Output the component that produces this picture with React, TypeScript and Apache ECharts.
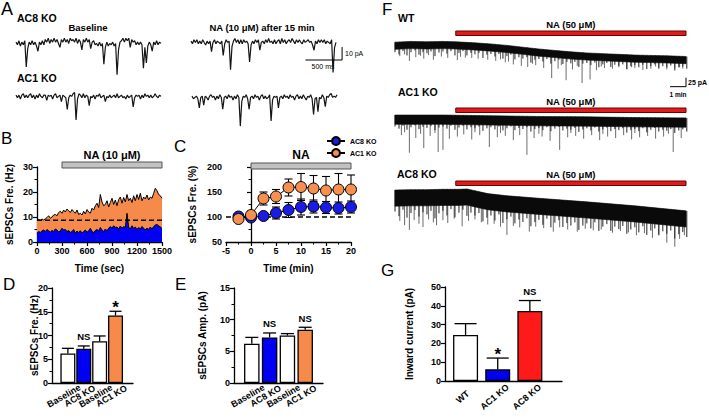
import React, { useEffect, useRef } from "react";
import * as echarts from "echarts";

const FONT = "'Liberation Sans', Arial, Helvetica, sans-serif";
const BLUE = "#0000f2";
const ORANGE = "#f68a4a";
const RED = "#ff1a1a";
const NA_GRAY = "#c2c2c2";
const NA_RED = "#e01b1b";

// ---------------- Panel A: example sEPSC traces (pA, one sample / 20 ms)
const A_DT_MS = 20;
const A_AC8_BASELINE = [1,-1,2,-2,1,-1,2,-18,-4,1, -1,2,-1,1,-2,-6,1,-1,2,-1, 3,1,4,0,3,1,4,1,3,0, -3,3,1,4,1,3,0,4,2,3, 1,4,0,3,1,-5,3,1,4,1, 3,-4,1,2,-1,0,-2,1,-2,0, -16,-3,1,-2,0,-1,1,-2,0,-24, -5,1,2,4,1,4,2,4,-3,3, 1,2,-1,1,-1,1,-1,-19,-3,-15, -2,1,-1,-6,1,-1,2,-1,1,0];
const A_AC8_NA = [1,-1,2,0,2,-1,1,-1,2,0, -2,1,-1,1,-7,0,2,-1,1,0, -1,1,-10,-1,2,0,1,-21,-3,1, 3,0,2,-1,2,-1,2,0,1,-1, -15,-2,1,-1,2,0,2,-6,0,1, -1,2,0,3,0,1,-1,2,-1,1, 2,-1,3,0,2,-1,1,2,0,3, 1,-1,2,0,2,0,-1,2,0,1, 2,0,1,-2,-6,1,-1,2,0,2, 0,2,-1,1,0,-1,2,-23,-4,0];
const A_AC1_BASELINE = [1,-1,1,-2,1,2,-1,1,-1,1, 2,-1,1,-2,1,-1,2,0,-1,1, 1,-3,1,0,1,-2,1,2,-1,0, 1,-4,1,0,-1,-10,-1,1,0,2, 3,-18,-2,2,1,-1,2,-1,1,0, -7,0,-1,1,-2,1,0,2,-1,0, 1,-4,0,-1,1,-1,0,1,-1,2, -1,0,1,-1,0,-2,1,-1,0,1, -8,-1,1,0,1,-2,1,-1,2,0, 1,-1,1,-1,0,2,0,-1,1,0];
const A_AC1_NA = [1,-1,0,1,-1,-8,0,1,-6,1, 0,-2,1,2,0,1,-2,1,-1,2, 0,-9,0,1,-1,2,0,1,-2,1, -1,2,0,-22,-3,1,0,2,-1,-9, 0,1,-1,2,0,1,-2,1,2,-1, 1,-1,0,2,-18,-2,1,0,1,-8, 0,1,-1,2,0,1,-1,2,0,1, -2,1,2,-1,1,-1,2,0,-2,1, 0,2,-1,-13,-1,0,-11,0,-1,2, 0,-7,1,0,2,3,0,1,0,2];
const A_SCALE_MS = 500;
const A_SCALE_PA = 10;

// ---------------- Panel B: sEPSC frequency over time (Hz, one bin / 20 s)
const B_DT_S = 20;
const B_AC1_KO = [8.5,9,8.7,9.2,8.8,9.3, 9.8,10.5,9.5,10,10.8, 11,10.5,11.8,12.3,11.5, 12.8,12,13.2,12.5,11.8, 13,12.2,11.5,12.8,11, 11.5,10.8,12.3,11.2,13, 12,11.5,13.5,12.8,14.5, 15.5,13.8,19,16,14.5, 15,16.5,14,15.8,17.5, 15,16.8,14.5,17,18, 15.5,17.8,16,19,16.5, 17.5,15.8,18.5,16.5,19, 17,19.5,16.5,18,17.2, 18.8,16.8,18,17.5,19.5, 21.5,20.5,19,18.5,17.5];
const B_AC8_KO = [3.5,4.2,3.8,4.5,4.8,4.2, 5,4.5,4,4.6,4.2, 5.2,4.8,4,4.5,5.5, 4.8,5,4.2,4.6,3.8, 4.2,5,3.5,4.4,3.8, 4.5,3.6,4.2,4.8,3.9, 4.5,5.5,4.2,3.8,4.6, 5,4.4,5.8,4.8,4.2, 5.2,4.5,5.5,6.2,5.5, 6.5,5.8,6,5.2,6.4, 5.5,6.2,5.8,11.5,6, 5.2,6.5,5.5,6,5, 5.8,5.2,6.2,5.5,4.8, 5.6,5,6,5.2,6.2, 6.8,7,6.5,6,5.5];
const B_BASELINE = 8.7;
const B_NA = [300, 1500];

// ---------------- Panel C: normalised frequency (%)
const C_TIME = [-2.5, 0, 2.5, 5, 7.5, 10, 12.5, 15, 17.5, 20];
const C_AC8_MEAN = [101, 99, 102, 108, 114, 120, 121, 119, 118, 120];
const C_AC8_SEM = [6, 5, 6, 12, 15, 16, 13, 12, 12, 12];
const C_AC1_MEAN = [96, 104, 137, 141, 159, 160, 157, 153, 155, 155];
const C_AC1_SEM = [5, 8, 13, 14, 17, 27, 26, 28, 32, 29];
const C_NA = [0, 20];

// ---------------- Panel D / E: bar summaries
const DE_LABELS = ["Baseline", "AC8 KO", "Baseline", "AC1 KO"];
const DE_POS = [1, 2, 3, 4];
const DE_COLORS = ["#ffffff", BLUE, "#ffffff", ORANGE];
const D_MEAN = [6.2, 7.2, 8.8, 14.2];
const D_SEM = [1.1, 0.6, 1.1, 0.9];
const D_SIG = ["", "NS", "", "*"];
const E_MEAN = [6.2, 7.2, 7.5, 8.4];
const E_SEM = [1.0, 0.7, 0.3, 0.4];
const E_SIG = ["", "NS", "", "NS"];

// ---------------- Panel G
const G_LABELS = ["WT", "AC1 KO", "AC8 KO"];
const G_POS = [1, 2, 3];
const G_COLORS = ["#ffffff", BLUE, RED];
const G_MEAN = [24.5, 6.2, 37.3];
const G_SEM = [6.0, 6.0, 5.5];
const G_SIG = ["", "*", "NS"];

// ---------------- Panel F: holding-current traces (min, pA)
const F_NA = [3.8, 18.2];
const F_SCALE_MIN = 1;
const F_SCALE_PA = 25;
const F_FRINGE_DT = 0.25;
const F_WT_TOP = [[0,-6],[1,-4],[2,-5],[3,-4],[3.8,-5],[5,-8],[6,-11],[7,-15],[8,-20],[9,-25],[10,-29],[11,-33],[12,-36],[13,-38],[14,-40],[15,-42],[16,-43],[17,-44],[18.2,-46]];
const F_WT_CORE = 20;
const F_WT_FRINGE = [-34,-40,-31,-43,-34,-29,-41,-34,-37,-32, -45,-35,-32,-38,-31,-43,-36,-31,-43,-36, -40,-36,-50,-41,-39,-46,-39,-52,-45,-41, -54,-48,-52,-48,-63,-55,-53,-60,-53,-66, -59,-55,-67,-61,-65,-61,-75,-66,-64,-70, -63,-76,-68,-64,-75,-69,-72,-68,-81,-73, -70,-76,-69,-81,-73,-68,-80,-73,-76,-71, -85,-76,-74,-80];
const F_WT_SPIKES = [[0.3,-45],[0.6,-40],[0.9,-58],[1.3,-48],[1.6,-44],[1.8,-52],[2.1,-42],[2.4,-55],[2.9,-46],[3.3,-50],[3.9,-56],[4.1,-47],[4.4,-49],[4.8,-50],[5.2,-52],[5.8,-55],[6.3,-58],[6.6,-54],[6.9,-62],[7.1,-60],[7.4,-68],[7.9,-72],[8.3,-75],[8.6,-66],[8.8,-70],[9.3,-78],[9.8,-106],[10.2,-80],[10.4,-70],[10.7,-112],[11.1,-82],[11.4,-72],[11.7,-120],[12.2,-110],[12.6,-84],[12.9,-74],[13.1,-78],[13.6,-80],[14.0,-76],[14.5,-82],[14.8,-76],[15.0,-78],[15.5,-84],[16.0,-80],[16.3,-74],[16.5,-76],[17.0,-82],[17.5,-78],[17.8,-76],[18.0,-80]];
const F_AC1_TOP = [[0,-14],[3,-14],[6,-16],[9,-18],[12,-19],[15,-21],[18.2,-22]];
const F_AC1_CORE = 26;
const F_AC1_FRINGE = [-46,-52,-44,-55,-48,-43,-53,-47,-50,-45, -56,-49,-46,-52,-44,-55,-49,-44,-54,-48, -51,-46,-58,-51,-48,-54,-46,-57,-51,-46, -56,-50,-53,-48,-60,-53,-50,-56,-48,-59, -52,-47,-57,-52,-55,-50,-61,-54,-51,-57, -49,-60,-54,-49,-59,-53,-56,-51,-63,-56, -53,-59,-51,-62,-55,-50,-60,-55,-58,-53, -64,-57,-54,-60];
const F_AC1_SPIKES = [[0.4,-70],[0.6,-62],[0.9,-119],[1.3,-78],[1.6,-66],[1.8,-106],[2.2,-72],[2.5,-64],[2.7,-117],[3.0,-111],[3.4,-80],[3.9,-74],[4.3,-68],[4.8,-82],[5.0,-62],[5.3,-70],[5.9,-103],[6.4,-76],[6.6,-64],[6.9,-72],[7.4,-84],[7.8,-70],[8.25,-125],[8.7,-78],[9.0,-66],[9.2,-74],[9.7,-86],[10.3,-111],[10.8,-76],[11.0,-64],[11.3,-72],[11.8,-80],[12.3,-70],[12.8,-84],[13.0,-66],[13.3,-74],[13.8,-78],[14.3,-70],[14.8,-82],[15.0,-64],[15.3,-76],[15.8,-72],[16.3,-80],[16.8,-74],[17.1,-66],[17.4,-117],[17.9,-78]];
const F_AC8_TOP = [[0,-14],[1,-13],[2,-13],[3,-12],[4,-12],[4.5,-11],[5,-16],[5.8,-24],[7,-30],[9,-37],[12,-47],[15,-58],[18.2,-72]];
const F_AC8_CORE = 45;
const F_AC8_FRINGE = [-74,-87,-69,-91,-78,-70,-88,-76,-82,-72, -93,-79,-72,-85,-67,-90,-77,-69,-86,-77, -85,-78,-101,-91,-85,-99,-82,-106,-95,-88, -107,-96,-103,-93,-115,-103,-97,-111,-94,-118, -105,-98,-117,-106,-113,-104,-125,-113,-107,-121, -104,-128,-116,-109,-128,-116,-123,-114,-136,-124, -118,-132,-115,-139,-127,-121,-140,-129,-136,-127, -149,-137,-131,-145];
const F_AC8_SPIKES = [[0.3,-100],[0.6,-112],[0.9,-125],[1.2,-98],[1.5,-108],[1.75,-117],[2.1,-96],[2.4,-104],[2.6,-112],[3.0,-98],[3.3,-106],[3.7,-94],[4.2,-115],[4.6,-100],[5.0,-96],[5.4,-104],[5.8,-110],[6.2,-108],[6.6,-116],[7.0,-139],[7.4,-114],[7.8,-118],[8.4,-130],[8.8,-116],[9.3,-120],[9.9,-130],[10.3,-118],[10.8,-124],[11.4,-130],[11.9,-122],[12.4,-126],[12.9,-124],[13.6,-133],[14.1,-128],[14.6,-132],[15.1,-140],[15.6,-134],[16.1,-147],[16.5,-138],[17.0,-161],[17.5,-172],[17.8,-150],[18.1,-140]];

// ---------------- helpers
const tickLabel = { color: "#000", fontSize: 9, fontWeight: "bold", fontFamily: FONT };
const axLine = { show: true, lineStyle: { color: "#000", width: 1.3 } };
const axTick = { show: true, inside: false, length: 4, lineStyle: { color: "#000", width: 1.2 } };
const minor = { show: true, splitNumber: 2, length: 2.5, lineStyle: { color: "#000", width: 1 } };
const nameStyle = { color: "#000", fontSize: 10, fontWeight: "bold", fontFamily: FONT };

function interp(pts: number[][], t: number) {
  for (let i = 1; i < pts.length; i++) {
    if (t <= pts[i][0]) {
      const [t0, v0] = pts[i - 1];
      const [t1, v1] = pts[i];
      return v0 + ((v1 - v0) * (t - t0)) / (t1 - t0);
    }
  }
  return pts[pts.length - 1][1];
}

function naBar(gi: number, range: number[], yVal: number, dy: number, h: number, text: string, fs: number, labelDy: number, fill: string, stroke: string) {
  return {
    type: "custom", xAxisIndex: gi, yAxisIndex: gi, silent: true, z: 5,
    data: [[range[0], range[1]]],
    renderItem: (_p: any, api: any) => {
      const a = api.coord([api.value(0), yVal]);
      const b = api.coord([api.value(1), yVal]);
      return {
        type: "group",
        children: [
          { type: "rect", shape: { x: a[0], y: a[1] + dy, width: b[0] - a[0], height: h }, style: { fill, stroke, lineWidth: 1 } },
          { type: "text", style: { text, x: (a[0] + b[0]) / 2, y: a[1] + dy + labelDy, textAlign: "center", textVerticalAlign: "middle", align: "center", verticalAlign: "middle", fill: "#000", fontSize: fs, fontWeight: "bold", fontFamily: FONT } },
        ],
      };
    },
  };
}

function scaleBar(gi: number, corner: number[], dx: number, dy: number) {
  return {
    type: "custom", xAxisIndex: gi, yAxisIndex: gi, silent: true, z: 6,
    data: [corner],
    renderItem: (_p: any, api: any) => {
      const x = api.value(0), y = api.value(1);
      const a = api.coord([x - dx, y]);
      const b = api.coord([x, y]);
      const c = api.coord([x, y + dy]);
      return { type: "polyline", shape: { points: [a, b, c] }, style: { stroke: "#000", lineWidth: 1, fill: "none" } };
    },
  };
}

function upErr(gi: number, pos: number[], mean: number[], sem: number[], half: number) {
  return {
    type: "custom", xAxisIndex: gi, yAxisIndex: gi, silent: true, z: 4,
    data: pos.map((p, i) => [p, mean[i], sem[i]]),
    renderItem: (_p: any, api: any) => {
      const x = api.value(0), m = api.value(1), e = api.value(2);
      const b = api.coord([x, m]);
      const t = api.coord([x, m + e]);
      const st = { stroke: "#000", lineWidth: 1.3 };
      return {
        type: "group",
        children: [
          { type: "line", shape: { x1: b[0], y1: b[1], x2: t[0], y2: t[1] }, style: st },
          { type: "line", shape: { x1: t[0] - half, y1: t[1], x2: t[0] + half, y2: t[1] }, style: st },
        ],
      };
    },
  };
}

function symErr(gi: number, pos: number[], mean: number[], sem: number[], half: number) {
  return {
    type: "custom", xAxisIndex: gi, yAxisIndex: gi, silent: true, z: 2,
    data: pos.map((p, i) => [p, mean[i], sem[i]]),
    renderItem: (_p: any, api: any) => {
      const x = api.value(0), m = api.value(1), e = api.value(2);
      const lo = api.coord([x, m - e]);
      const hi = api.coord([x, m + e]);
      const st = { stroke: "#000", lineWidth: 1.1 };
      return {
        type: "group",
        children: [
          { type: "line", shape: { x1: lo[0], y1: lo[1], x2: hi[0], y2: hi[1] }, style: st },
          { type: "line", shape: { x1: hi[0] - half, y1: hi[1], x2: hi[0] + half, y2: hi[1] }, style: st },
          { type: "line", shape: { x1: lo[0] - half, y1: lo[1], x2: lo[0] + half, y2: lo[1] }, style: st },
        ],
      };
    },
  };
}

function sigText(gi: number, pos: number[], mean: number[], sem: number[], sig: string[]) {
  return {
    type: "custom", xAxisIndex: gi, yAxisIndex: gi, silent: true, z: 6,
    data: pos.map((p, i) => [p, mean[i] + sem[i]]),
    renderItem: (p: any, api: any) => {
      const s = sig[p.dataIndex];
      if (!s) return null;
      const c = api.coord([api.value(0), api.value(1)]);
      const star = s === "*";
      return {
        type: "text",
        style: { text: s, x: c[0], y: c[1] + (star ? -4 : -9), textAlign: "center", textVerticalAlign: "middle", align: "center", verticalAlign: "middle", fill: "#000", fontSize: star ? 17 : 9.5, fontWeight: "bold", fontFamily: FONT },
      };
    },
  };
}

function catLabels(gi: number, pos: number[], labels: string[], rotDeg: number, dx: number, dy: number) {
  return {
    type: "custom", xAxisIndex: gi, yAxisIndex: gi, silent: true, z: 6,
    data: pos.map((p) => [p, 0]),
    renderItem: (p: any, api: any) => {
      const c = api.coord([api.value(0), api.value(1)]);
      return {
        type: "text", x: c[0] + dx, y: c[1] + dy, rotation: (rotDeg * Math.PI) / 180,
        style: { text: labels[p.dataIndex], x: 0, y: 0, textAlign: "center", textVerticalAlign: "middle", align: "center", verticalAlign: "middle", fill: "#000", fontSize: 9, fontWeight: "bold", fontFamily: FONT },
      };
    },
  };
}

function bars(gi: number, pos: number[], mean: number[], colors: string[], w: number) {
  return {
    type: "bar", xAxisIndex: gi, yAxisIndex: gi, silent: true, barWidth: w, z: 3,
    itemStyle: { borderColor: "#000", borderWidth: 1.3 },
    data: pos.map((p, i) => ({ value: [p, mean[i]], itemStyle: { color: colors[i], borderColor: "#000", borderWidth: 1.3 } })),
  };
}

function traceLine(gi: number, arr: number[]) {
  return {
    type: "line", xAxisIndex: gi, yAxisIndex: gi, silent: true, symbol: "none", smooth: false,
    lineStyle: { color: "#151515", width: 1.2 },
    data: arr.map((v, i) => [i * A_DT_MS, v]),
  };
}

function fTrace(gi: number, top: number[][], core: number, fringe: number[], spikes: number[][]) {
  const hair = (color: string, lw: number) => (_p: any, api: any) => {
    const t = api.value(0), d = api.value(1);
    const a = api.coord([t, interp(top, t)]);
    const b = api.coord([t, d]);
    return { type: "line", shape: { x1: a[0], y1: a[1], x2: b[0], y2: b[1] }, style: { stroke: color, lineWidth: lw } };
  };
  return [
    { type: "custom", xAxisIndex: gi, yAxisIndex: gi, silent: true, z: 2, data: spikes, renderItem: hair("#5a5a5a", 0.9) },
    { type: "custom", xAxisIndex: gi, yAxisIndex: gi, silent: true, z: 2, data: fringe.map((v, i) => [i * F_FRINGE_DT, v]), renderItem: hair("#222", 1) },
    {
      type: "custom", xAxisIndex: gi, yAxisIndex: gi, silent: true, z: 3,
      data: [[top[0][0], top[0][1]]],
      renderItem: (_p: any, api: any) => {
        const up = top.map((q) => api.coord(q));
        const low = top.slice().reverse().map((q) => api.coord([q[0], q[1] - core]));
        return { type: "polygon", shape: { points: up.concat(low) }, style: { fill: "#0a0a0a", stroke: "#0a0a0a", lineWidth: 0.6 } };
      },
    },
  ];
}

function txt(text: string, x: number, y: number, size: number, weight = "bold", align = "left") {
  return { type: "text", x, y, silent: true, style: { text, fill: "#000", fontSize: size, fontWeight: weight, fontFamily: FONT, textAlign: align, textVerticalAlign: "middle", align, verticalAlign: "middle" } };
}

export default function App() {
  const ref = useRef<HTMLDivElement>(null);
  useEffect(() => {
    if (!ref.current) return;
    const chart = echarts.init(ref.current, null, { renderer: "svg" });
    const gridBoxes = [
      { left: 37, top: 167, width: 125, height: 75 }, // 0 B
      { left: 226, top: 167, width: 125, height: 75 }, // 1 C
      { left: 52, top: 288, width: 81, height: 95 }, // 2 D
      { left: 234, top: 288, width: 89, height: 95 }, // 3 E
      { left: 445, top: 287, width: 117, height: 94 }, // 4 G
      { left: 16, top: 33, width: 145, height: 43 }, // 5 A AC8 baseline
      { left: 191, top: 32, width: 145, height: 43 }, // 6 A AC8 NA
      { left: 16, top: 86, width: 145, height: 43 }, // 7 A AC1 baseline
      { left: 192, top: 87, width: 145, height: 43 }, // 8 A AC1 NA
      { left: 395, top: 40, width: 291, height: 70 }, // 9 F WT
      { left: 395, top: 110, width: 291, height: 70 }, // 10 F AC1
      { left: 395, top: 185, width: 291, height: 70 }, // 11 F AC8
    ];
    const grid = gridBoxes.map((g) => ({ ...g, containLabel: false, outerBoundsMode: "none" }));

    const visAxis = (gi: number, extra: any) => ({
      gridIndex: gi, type: "value", axisLine: axLine, axisTick: axTick,
      axisLabel: { ...tickLabel, margin: 4, formatter: (v: number) => String(v) }, splitLine: { show: false }, minorSplitLine: { show: false },
      nameTextStyle: nameStyle, nameLocation: "middle", nameMoveOverlap: false, ...extra,
    });
    const hidden = (gi: number, min: number, max: number) => ({ gridIndex: gi, type: "value", min, max, show: false, splitLine: { show: false } });
    const noLabelX = { axisTick: { show: false }, axisLabel: { show: false } };

    const xAxis = [
      visAxis(0, { min: 0, max: 1500, interval: 300, minorTick: minor, name: "Time (sec)", nameGap: 21 }),
      visAxis(1, { min: -5, max: 20, interval: 5, minorTick: minor, name: "Time (min)", nameGap: 21 }),
      visAxis(2, { min: 0, max: 5.1, ...noLabelX }),
      visAxis(3, { min: 0, max: 5, ...noLabelX }),
      visAxis(4, { min: 0.36, max: 4, ...noLabelX }),
      hidden(5, 0, 1980), hidden(6, 0, 1980), hidden(7, 0, 1980), hidden(8, 0, 1980),
      hidden(9, 0, 18.2), hidden(10, 0, 18.2), hidden(11, 0, 18.2),
    ];
    const yAxis = [
      visAxis(0, { min: 0, max: 30, interval: 10, minorTick: minor, name: "sEPSCs Fre. (Hz)", nameGap: 23 }),
      visAxis(1, { min: 50, max: 200, interval: 50, minorTick: minor, name: "sEPSCs Fre. (%)", nameGap: 29 }),
      visAxis(2, { min: 0, max: 20, interval: 5, minorTick: minor, name: "sEPSCs Fre. (Hz)", nameGap: 13 }),
      visAxis(3, { min: 0, max: 15, interval: 5, minorTick: minor, name: "sEPSCs Amp. (pA)", nameGap: 27 }),
      visAxis(4, { min: 0, max: 50, interval: 10, name: "Inward current (pA)", nameGap: 31 }),
      hidden(5, -25, 8), hidden(6, -25, 8), hidden(7, -25, 8), hidden(8, -25, 8),
      hidden(9, -195, 0), hidden(10, -195, 0), hidden(11, -195, 0),
    ];

    const series: any[] = [
      // Panel B
      { type: "line", xAxisIndex: 0, yAxisIndex: 0, silent: true, symbol: "none", smooth: false, lineStyle: { color: "#000", width: 1 }, areaStyle: { color: ORANGE, opacity: 1 }, data: B_AC1_KO.map((v, i) => [i * B_DT_S, v]), z: 2 },
      { type: "line", xAxisIndex: 0, yAxisIndex: 0, silent: true, symbol: "none", smooth: false, lineStyle: { color: "#000", width: 1 }, areaStyle: { color: BLUE, opacity: 1 }, data: B_AC8_KO.map((v, i) => [i * B_DT_S, v]), z: 3 },
      { type: "line", xAxisIndex: 0, yAxisIndex: 0, silent: true, symbol: "none", lineStyle: { color: "#000", width: 1.3, type: [5, 3] }, data: [[0, B_BASELINE], [1500, B_BASELINE]], z: 4 },
      naBar(0, B_NA, 30, -5, 6, "NA (10 μM)", 11, -7, NA_GRAY, "#555"),
      // Panel C
      { type: "line", xAxisIndex: 1, yAxisIndex: 1, silent: true, symbol: "none", lineStyle: { color: "#000", width: 1.3, type: [5, 3] }, data: [[-5, 100], [20, 100]], z: 1 },
      symErr(1, C_TIME, C_AC8_MEAN, C_AC8_SEM, 4),
      symErr(1, C_TIME, C_AC1_MEAN, C_AC1_SEM, 4),
      { type: "line", name: "AC8 KO", xAxisIndex: 1, yAxisIndex: 1, silent: true, symbol: "circle", symbolSize: 11, smooth: false, lineStyle: { color: "#000", width: 1 }, itemStyle: { color: "#1b1be6", borderColor: "#000", borderWidth: 1 }, data: C_TIME.map((t, i) => [t, C_AC8_MEAN[i]]), z: 3 },
      { type: "line", name: "AC1 KO", xAxisIndex: 1, yAxisIndex: 1, silent: true, symbol: "circle", symbolSize: 11, smooth: false, lineStyle: { color: "#000", width: 1 }, itemStyle: { color: "#f7904f", borderColor: "#000", borderWidth: 1 }, data: C_TIME.map((t, i) => [t, C_AC1_MEAN[i]]), z: 4 },
      naBar(1, C_NA, 200, -4, 6, "NA", 12, -8, NA_GRAY, "#555"),
      // Panel D
      bars(2, DE_POS, D_MEAN, DE_COLORS, 15),
      upErr(2, DE_POS, D_MEAN, D_SEM, 6),
      sigText(2, DE_POS, D_MEAN, D_SEM, D_SIG),
      catLabels(2, DE_POS, DE_LABELS, 30, -4, 13),
      // Panel E
      bars(3, DE_POS, E_MEAN, DE_COLORS, 15.5),
      upErr(3, DE_POS, E_MEAN, E_SEM, 6.5),
      sigText(3, DE_POS, E_MEAN, E_SEM, E_SIG),
      catLabels(3, DE_POS, DE_LABELS, 30, -4, 13),
      // Panel G
      bars(4, G_POS, G_MEAN, G_COLORS, 25),
      upErr(4, G_POS, G_MEAN, G_SEM, 11),
      sigText(4, G_POS, G_MEAN, G_SEM, G_SIG),
      catLabels(4, G_POS, G_LABELS, 40, -3, 16),
      // Panel A traces
      traceLine(5, A_AC8_BASELINE),
      traceLine(6, A_AC8_NA),
      traceLine(7, A_AC1_BASELINE),
      traceLine(8, A_AC1_NA),
      scaleBar(6, [2063, -13.5], A_SCALE_MS, A_SCALE_PA),
      // Panel F traces
      ...fTrace(9, F_WT_TOP, F_WT_CORE, F_WT_FRINGE, F_WT_SPIKES),
      ...fTrace(10, F_AC1_TOP, F_AC1_CORE, F_AC1_FRINGE, F_AC1_SPIKES),
      ...fTrace(11, F_AC8_TOP, F_AC8_CORE, F_AC8_FRINGE, F_AC8_SPIKES),
      naBar(9, F_NA, 0, -9, 4.5, "NA (50 μM)", 9.5, -7, NA_RED, "#6b0000"),
      naBar(10, F_NA, 0, -2, 4.5, "NA (50 μM)", 9.5, -7, NA_RED, "#6b0000"),
      naBar(11, F_NA, 0, -4, 4.5, "NA (50 μM)", 9.5, -7, NA_RED, "#6b0000"),
      scaleBar(9, [18.2, -130], F_SCALE_MIN, F_SCALE_PA),
    ];

    const graphic = [
      txt("A", 1, 9, 18, "normal"),
      txt("AC8 KO", 17, 18, 10.5),
      txt("Baseline", 88, 27, 9.5, "bold", "center"),
      txt("NA (10 μM) after 15 min", 262, 27, 9.5, "bold", "center"),
      txt("AC1 KO", 17, 78, 10.5),
      txt("10 pA", 345, 53.5, 7, "normal"),
      txt("500 ms", 323, 66, 7, "normal", "center"),
      txt("B", 1, 138, 17, "normal"),
      txt("C", 174, 146, 17, "normal"),
      txt("D", 3, 284, 17, "normal"),
      txt("E", 175, 284, 17, "normal"),
      txt("F", 382, 9.5, 17, "normal"),
      txt("G", 381, 270, 17, "normal"),
      txt("WT", 398, 17.5, 10.5),
      txt("AC1 KO", 398, 92, 10.5),
      txt("AC8 KO", 397, 174, 10.5),
      txt("25 pA", 688, 82, 7),
      txt("1 min", 678, 94, 6.5, "bold", "center"),
    ];

    chart.setOption({
      animation: false,
      backgroundColor: "#ffffff",
      grid,
      xAxis,
      yAxis,
      legend: {
        data: ["AC8 KO", "AC1 KO"], orient: "vertical", left: 326, top: 136, padding: 0,
        itemWidth: 18, itemHeight: 10, itemGap: 2, selectedMode: false,
        textStyle: { fontSize: 7, fontWeight: "bold", fontFamily: FONT, color: "#000" },
      },
      series,
      graphic,
    });
    return () => chart.dispose();
  }, []);
  return <div ref={ref} style={{ position: "absolute", left: 0, top: 0, width: 709, height: 418, background: "#fff" }} />;
}
